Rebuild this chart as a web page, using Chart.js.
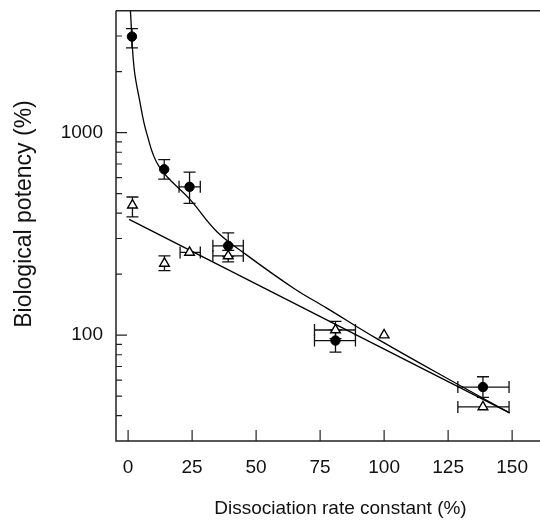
<!DOCTYPE html>
<html>
<head>
<meta charset="utf-8">
<script src="https://cdn.jsdelivr.net/npm/chart.js@4/dist/chart.umd.min.js"></script>
<style>
  html, body { margin: 0; padding: 0; background: #fff; overflow: hidden; }
  #wrap { width: 540px; height: 521px; overflow: hidden; }
</style>
</head>
<body>
<div id="wrap"><canvas id="chart-1" width="572" height="521"></canvas></div>
<script>
// filled circles
const circleX = [1.5, 14.1, 24.0, 39.1, 81.0, 138.6];
const circleY = [2980, 659, 540, 276, 94, 55.4];
const circleYLo = [2623, 589, 447, 244, 82.5, 49.3];
const circleYHi = [3265, 736, 638, 320, 106, 62.3];
const circleXLo = [null, null, 19.9, 33.1, 72.8, 128.8];
const circleXHi = [null, null, 28.2, 45.0, 88.8, 148.8];

// open triangles
const triX = [1.7, 14.2, 24.0, 39.1, 81.0, 100, 138.6];
const triY = [438, 226, 256, 246, 106, 100, 44.2];
const triYLo = [384, 208, null, 230, 96, null, null];
const triYHi = [481, 246, null, 262, 117, null, null];
const triXLo = [null, null, 20.3, 33.1, 72.8, null, 128.8];
const triXHi = [null, null, 28.2, 45.0, 88.8, null, 148.8];

// fitted curves
const curveAX = [0.9, 2.3, 4.5, 7.3, 12.2, 24.4, 34.6, 45.5, 64.8, 77.6, 96.8, 131.4, 149];
const curveAY = [4000, 2104, 1442, 989, 677, 464, 325, 253, 170, 136, 96.7, 54.8, 41.3];
const lineBX = [0.4, 149];
const lineBY = [373, 41.3];

const xTicks = [0, 25, 50, 75, 100, 125, 150];
const yTicks = [40, 50, 60, 70, 80, 90, 100, 200, 300, 400, 500, 600, 700, 800, 900, 1000, 2000, 3000];
const yLabelled = [100, 1000];

const pts = (xs, ys) => xs.map((x, i) => ({ x: x, y: ys[i] }));
const family = "'Liberation Sans', Arial, sans-serif";
const font = { family: family, size: 19 };

function errorBars(ctx, sx, sy, xs, ys, xLo, xHi, yLo, yHi) {
  const cap = 6;
  for (let i = 0; i < xs.length; i++) {
    const px = sx.getPixelForValue(xs[i]);
    const py = sy.getPixelForValue(ys[i]);
    ctx.beginPath();
    if (yLo[i] != null) {
      const a = sy.getPixelForValue(yLo[i]), b = sy.getPixelForValue(yHi[i]);
      ctx.moveTo(px, a); ctx.lineTo(px, b);
      ctx.moveTo(px - cap, a); ctx.lineTo(px + cap, a);
      ctx.moveTo(px - cap, b); ctx.lineTo(px + cap, b);
    }
    if (xLo[i] != null) {
      const a = sx.getPixelForValue(xLo[i]), b = sx.getPixelForValue(xHi[i]);
      ctx.moveTo(a, py); ctx.lineTo(b, py);
      ctx.moveTo(a, py - cap); ctx.lineTo(a, py + cap);
      ctx.moveTo(b, py - cap); ctx.lineTo(b, py + cap);
    }
    ctx.stroke();
  }
}

const frame = {
  id: "frame",
  beforeDatasetsDraw(chart) {
    const ctx = chart.ctx, sx = chart.scales.x, sy = chart.scales.y;
    ctx.save();
    ctx.strokeStyle = "#111";
    ctx.lineWidth = 1.3;
    errorBars(ctx, sx, sy, circleX, circleY, circleXLo, circleXHi, circleYLo, circleYHi);
    errorBars(ctx, sx, sy, triX, triY, triXLo, triXHi, triYLo, triYHi);
    ctx.restore();
  },
  afterDraw(chart) {
    const ctx = chart.ctx, a = chart.chartArea, sx = chart.scales.x, sy = chart.scales.y;
    ctx.save();
    ctx.strokeStyle = "#222";
    ctx.lineWidth = 1.5;
    ctx.beginPath();
    ctx.moveTo(a.left, a.top); ctx.lineTo(chart.width, a.top);
    ctx.moveTo(a.left, a.top); ctx.lineTo(a.left, a.bottom);
    ctx.lineTo(chart.width, a.bottom);
    ctx.stroke();
    ctx.lineWidth = 1.2;
    ctx.beginPath();
    xTicks.forEach(v => {
      const p = sx.getPixelForValue(v);
      ctx.moveTo(p, a.bottom); ctx.lineTo(p, a.bottom - 11);
    });
    yTicks.forEach(v => {
      const p = sy.getPixelForValue(v);
      const len = yLabelled.includes(v) ? 11 : 6;
      ctx.moveTo(a.left, p); ctx.lineTo(a.left + len, p);
    });
    ctx.stroke();
    // y axis title
    ctx.translate(31, 214);
    ctx.rotate(-Math.PI / 2);
    ctx.fillStyle = "#111";
    ctx.font = "23px " + family;
    ctx.textAlign = "center";
    ctx.textBaseline = "alphabetic";
    ctx.fillText("Biological potency (%)", 0, 0);
    ctx.restore();
  },
};

new Chart(document.getElementById("chart-1"), {
  type: "scatter",
  data: {
    datasets: [
      {
        label: "circles",
        data: pts(circleX, circleY),
        pointStyle: "circle",
        pointRadius: 4.7,
        backgroundColor: "#000",
        borderColor: "#000",
        borderWidth: 1,
      },
      {
        label: "triangles",
        data: pts(triX, triY),
        pointStyle: "triangle",
        pointRadius: 5.6,
        backgroundColor: "#fff",
        borderColor: "#000",
        borderWidth: 1.4,
      },
      {
        label: "fit circles",
        data: pts(curveAX, curveAY),
        showLine: true,
        pointRadius: 0,
        borderColor: "#000",
        borderWidth: 1.3,
        tension: 0.4,
      },
      {
        label: "fit triangles",
        data: pts(lineBX, lineBY),
        showLine: true,
        pointRadius: 0,
        borderColor: "#000",
        borderWidth: 1.3,
      },
    ],
  },
  options: {
    responsive: false,
    animation: false,
    layout: { padding: { top: 10.7, right: 0, bottom: 0, left: 0 } },
    plugins: {
      legend: { display: false },
      tooltip: { enabled: false },
    },
    scales: {
      x: {
        type: "linear",
        min: -4.73,
        max: 170.65,
        grid: { display: false, drawTicks: false },
        border: { display: false },
        afterBuildTicks: (scale) => { scale.ticks = xTicks.map(v => ({ value: v })); },
        afterFit: (scale) => {
          scale.height = 80;
          scale.paddingLeft = 0;
          scale.paddingRight = 0;
        },
        ticks: { font: font, color: "#111", padding: 15, autoSkip: false, maxRotation: 0 },
        title: {
          display: true,
          text: "Dissociation rate constant (%)",
          font: font,
          color: "#111",
          padding: { top: 0, bottom: 1 },
        },
      },
      y: {
        type: "logarithmic",
        min: 30,
        max: 4000,
        grid: { display: false, drawTicks: false },
        border: { display: false },
        afterBuildTicks: (scale) => { scale.ticks = yTicks.map(v => ({ value: v })); },
        afterFit: (scale) => {
          scale.width = 116;
          scale.paddingTop = 0;
          scale.paddingBottom = 0;
        },
        ticks: {
          font: font,
          color: "#111",
          padding: 13,
          autoSkip: false,
          callback: (v) => (yLabelled.includes(v) ? String(v) : ""),
        },
      },
    },
  },
  plugins: [frame],
});
</script>
</body>
</html>
